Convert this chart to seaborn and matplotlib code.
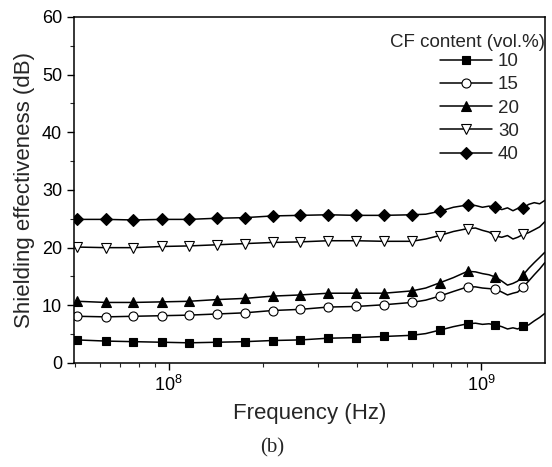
import matplotlib
matplotlib.use("Agg")
import matplotlib.pyplot as plt
import matplotlib.ticker as mticker
import seaborn as sns
import pandas as pd

# frequencies (MHz) of the measured points
freq_mhz = [51, 63, 77, 95, 116, 143, 175, 215, 264, 324, 398, 489, 600,
            665, 737, 815, 905, 960, 1010, 1060, 1112, 1165, 1215, 1265,
            1310, 1365, 1420, 1480, 1540, 1600]
# indices of points that carry a symbol
marker_idx = [0, 1, 2, 3, 4, 5, 6, 7, 8, 9, 10, 11, 12, 14, 16, 20, 25]

se_10 = [4.0, 3.8, 3.7, 3.6, 3.5, 3.6, 3.7, 3.9, 4.0, 4.3, 4.4, 4.6, 4.8,
         5.1, 5.7, 6.3, 6.8, 6.9, 6.7, 6.8, 6.6, 6.3, 5.9, 6.1,
         5.9, 6.4, 6.6, 7.3, 7.9, 8.6]
se_15 = [8.1, 8.0, 8.1, 8.2, 8.3, 8.5, 8.7, 9.1, 9.3, 9.7, 9.8, 10.1, 10.5,
         10.9, 11.6, 12.4, 13.2, 13.2, 13.0, 12.9, 12.8, 12.3, 11.8, 12.1,
         12.3, 13.2, 14.2, 15.3, 16.3, 17.4]
se_20 = [10.7, 10.5, 10.5, 10.6, 10.7, 11.0, 11.2, 11.6, 11.8, 12.1, 12.1, 12.1, 12.5,
         13.0, 13.9, 14.8, 15.9, 15.8, 15.5, 15.3, 14.9, 14.2, 13.5, 13.8,
         14.2, 15.3, 16.4, 17.4, 18.3, 19.2]
se_30 = [20.1, 20.0, 20.0, 20.2, 20.3, 20.5, 20.7, 20.9, 21.0, 21.2, 21.2, 21.1, 21.1,
         21.5, 22.1, 22.8, 23.3, 23.4, 23.0, 22.7, 22.0, 21.8, 22.1, 21.5,
         21.8, 22.3, 22.6, 23.1, 23.6, 24.5]
se_40 = [24.9, 24.9, 24.8, 24.9, 24.9, 25.1, 25.2, 25.5, 25.6, 25.7, 25.6, 25.6, 25.7,
         25.8, 26.3, 27.0, 27.4, 27.3, 27.0, 27.2, 27.0, 26.6, 26.9, 26.4,
         26.8, 26.9, 27.5, 27.8, 27.6, 28.2]

cf_labels = ["10", "15", "20", "30", "40"]
series = [se_10, se_15, se_20, se_30, se_40]
styles = [("s", "black", 6), ("o", "white", 6.5), ("^", "black", 7.5),
          ("v", "white", 7.5), ("D", "black", 6)]

rows = []
for lab, vals in zip(cf_labels, series):
    for f, v in zip(freq_mhz, vals):
        rows.append({"freq": f * 1e6, "se": v, "cf": lab})
df = pd.DataFrame(rows)

sns.set_style("ticks")
plt.rcParams["font.family"] = ["Liberation Sans", "DejaVu Sans"]
plt.rcParams["mathtext.fontset"] = "custom"
plt.rcParams["mathtext.rm"] = "Liberation Sans"
plt.rcParams["mathtext.default"] = "regular"

fig = plt.figure(figsize=(5.52, 4.67), dpi=100)
ax = fig.add_axes([0.134, 0.2227, 0.853, 0.741])

for lab, (mk, fc, ms) in zip(cf_labels, styles):
    sns.lineplot(data=df[df["cf"] == lab], x="freq", y="se", ax=ax,
                 color="black", linewidth=1.1, marker=mk, markersize=ms,
                 markerfacecolor=fc, markeredgecolor="black",
                 markeredgewidth=0.8, markevery=marker_idx, label=lab)

ax.set_xscale("log")
ax.set_xlim(4.97e7, 1.6e9)
ax.set_ylim(0, 60)
ax.set_yticks(range(0, 61, 10))
ax.yaxis.set_minor_locator(mticker.MultipleLocator(5))
ax.xaxis.set_major_locator(mticker.FixedLocator([1e8, 1e9]))
ax.xaxis.set_major_formatter(mticker.FixedFormatter(["$10^8$", "$10^9$"]))
ax.xaxis.set_minor_locator(mticker.LogLocator(base=10, subs=range(2, 10)))
ax.xaxis.set_minor_formatter(mticker.NullFormatter())
ax.tick_params(which="major", direction="out", length=5, width=1, labelsize=13,
               colors="black")
ax.tick_params(which="minor", direction="out", length=3, width=0.8)
for sp in ax.spines.values():
    sp.set_linewidth(1.1)
    sp.set_color("black")

ax.set_xlabel("Frequency (Hz)", fontsize=16, labelpad=6)
ax.set_ylabel("Shielding effectiveness (dB)", fontsize=16, labelpad=5)

ax.text(1.0, 0.925, "CF content (vol.%)", transform=ax.transAxes,
        ha="right", va="center", fontsize=13.5)
leg = ax.legend(loc="upper left", bbox_to_anchor=(0.777, 0.896),
                frameon=False, fontsize=13.5, handlelength=2.8,
                handletextpad=0.3, labelspacing=0.33, borderaxespad=0,
                borderpad=0)

fig.text(0.493, 0.042, "(b)", ha="center", va="center", fontsize=15,
         family=["Liberation Serif", "DejaVu Serif"])

fig.savefig("out.png", dpi=100)
